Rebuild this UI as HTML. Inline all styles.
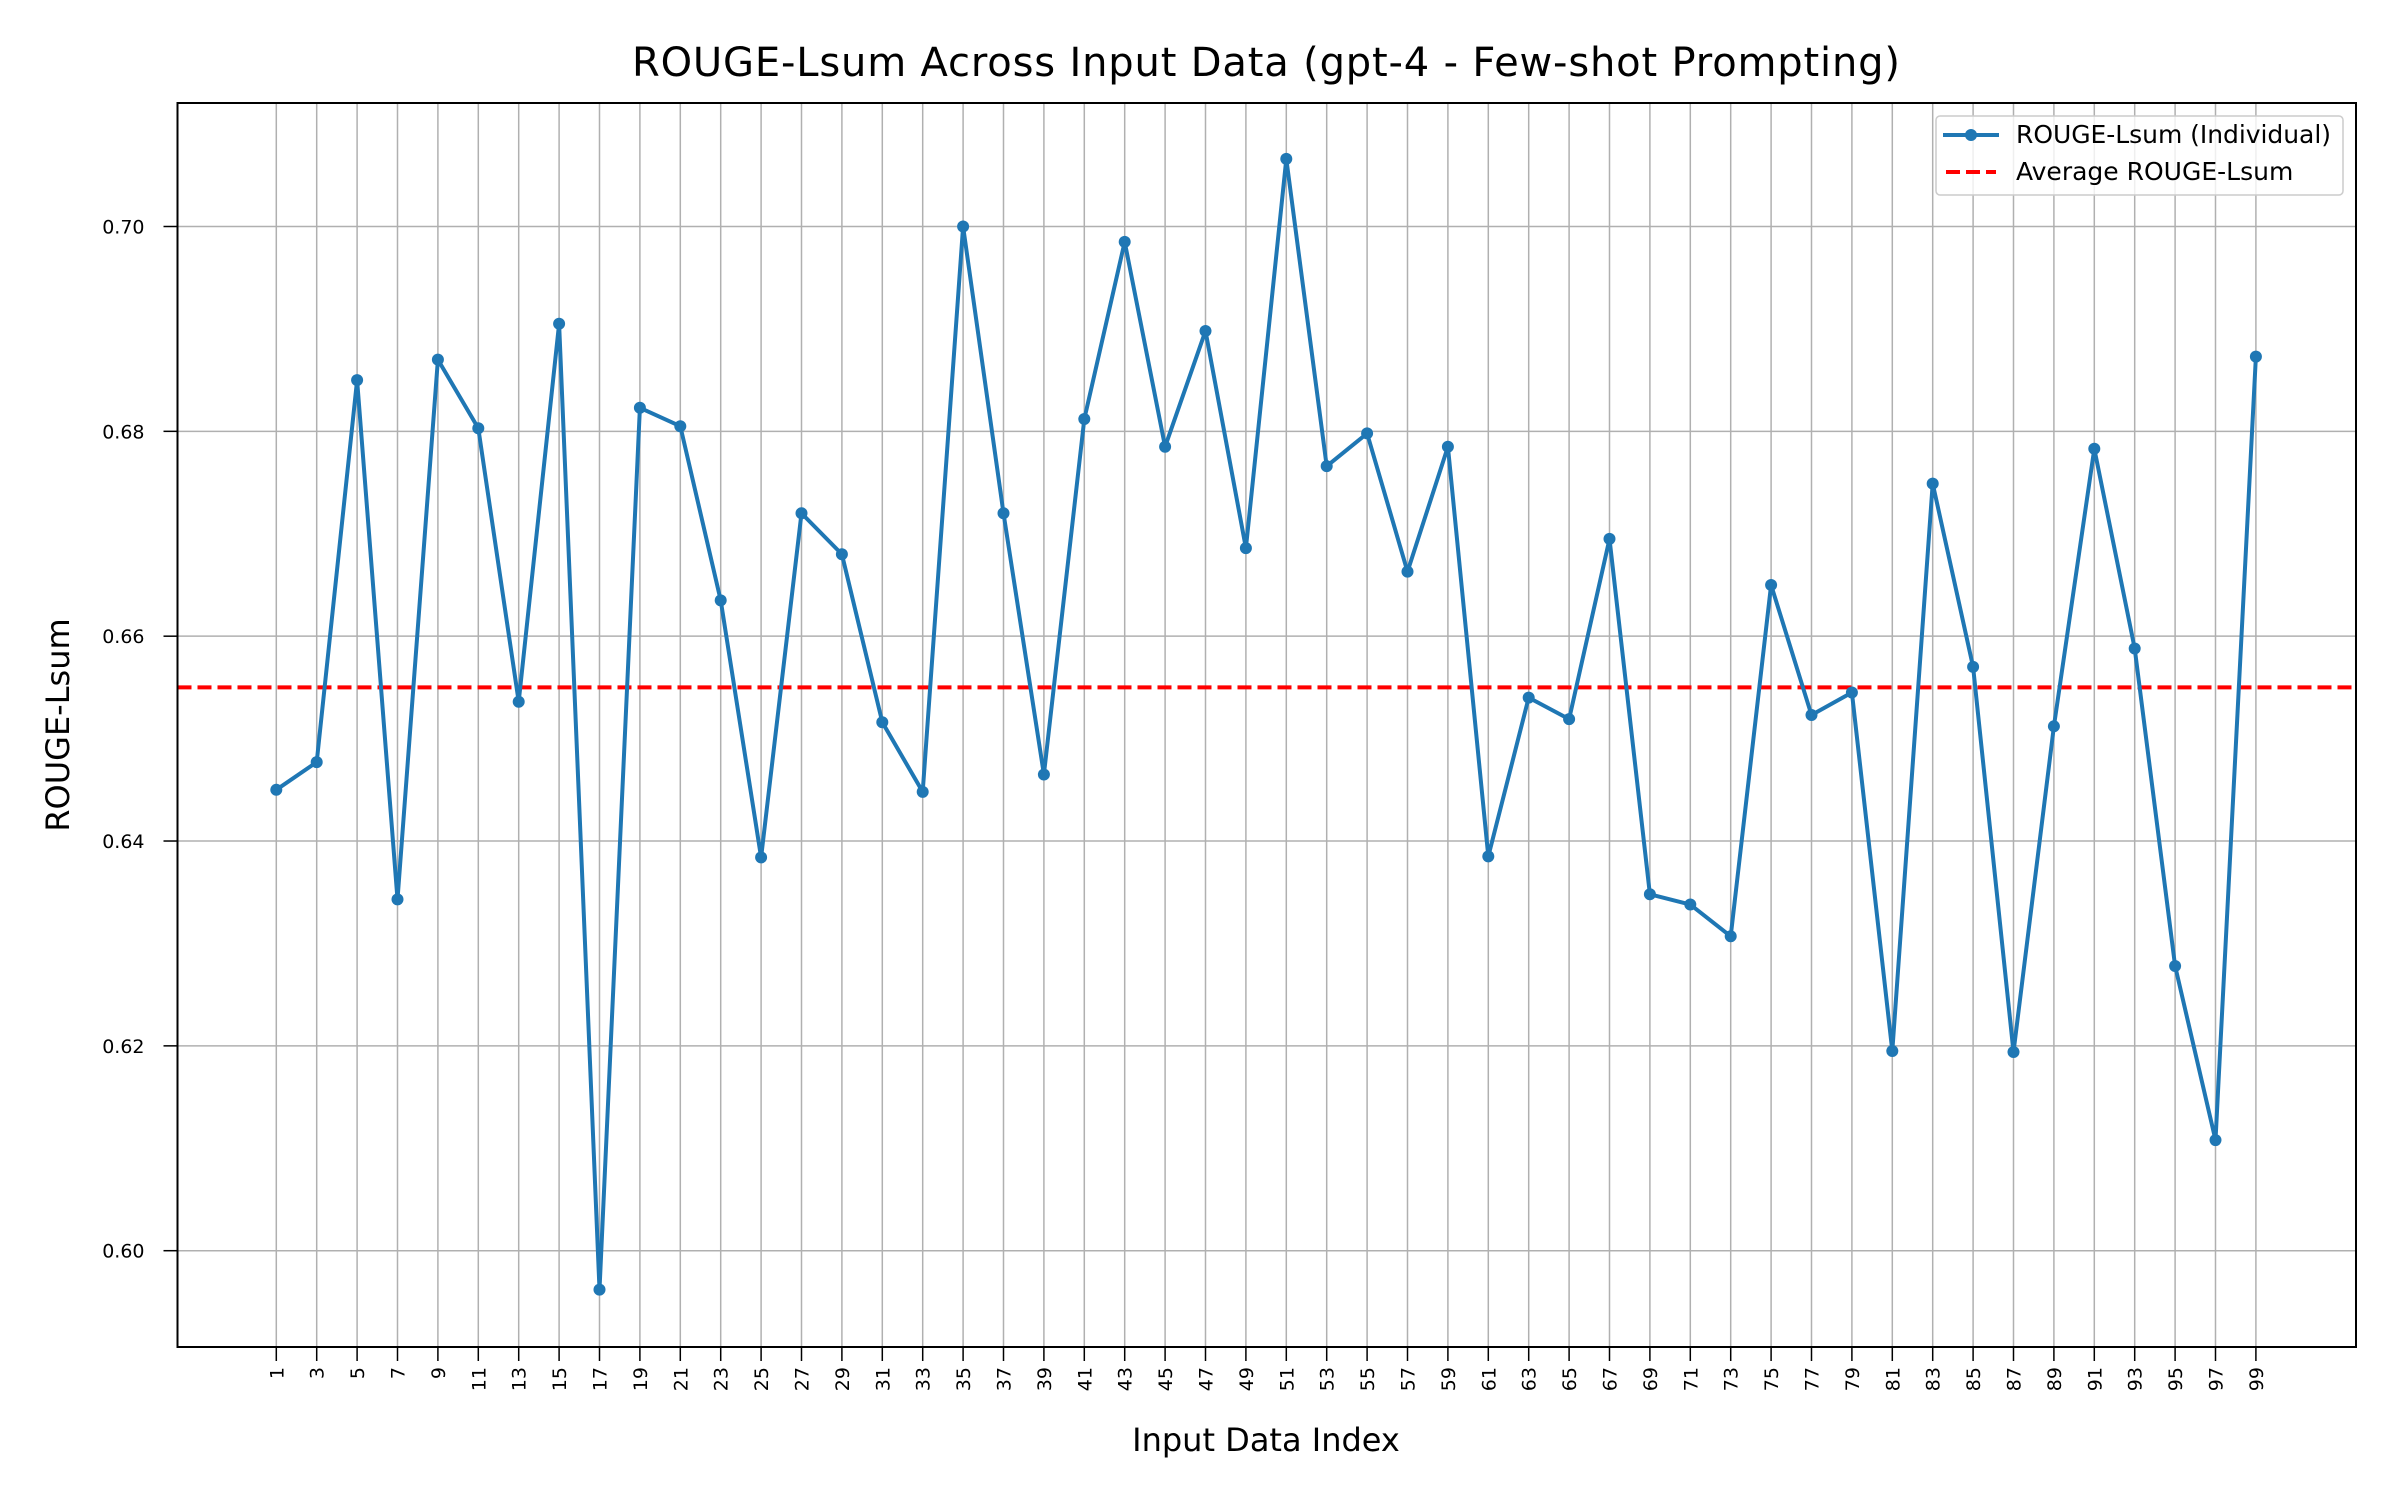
<!DOCTYPE html>
<html><head><meta charset="utf-8"><style>
body{margin:0;background:#fff}
svg text{font-family:"DejaVu Sans","Liberation Sans",sans-serif;fill:#000}
</style></head><body>
<svg id="chart" width="2400" height="1500" xmlns="http://www.w3.org/2000/svg">
<rect width="2400" height="1500" fill="#fff"/>
<g id="grid"></g>
<g id="xticks"></g>
<g id="yticks"></g>
<line id="avg" stroke="#ff0000" stroke-width="4" stroke-dasharray="14,6"/>
<path id="series" fill="none" stroke="#1f77b4" stroke-width="4" stroke-linejoin="round"/>
<g id="points"></g>
<rect x="177.5" y="103" width="2178.5" height="1244" fill="none" stroke="#000" stroke-width="2"/>
<text x="1266" y="76" font-size="40" textLength="1268" text-anchor="middle">ROUGE-Lsum Across Input Data (gpt-4 - Few-shot Prompting)</text>
<text x="1266" y="1451" font-size="32" text-anchor="middle">Input Data Index</text>
<text x="0" y="0" font-size="32" text-anchor="middle" transform="translate(69,725) rotate(-90)">ROUGE-Lsum</text>
<g>
<rect x="1936" y="116" width="407" height="79" rx="4" fill="#fff" fill-opacity="0.8" stroke="#ccc" stroke-width="1.5"/>
<line x1="1943" y1="135" x2="1999" y2="135" stroke="#1f77b4" stroke-width="4"/>
<circle cx="1971" cy="135" r="6" fill="#1f77b4"/>
<text x="2016" y="143" font-size="25" textLength="315">ROUGE-Lsum (Individual)</text>
<line x1="1946" y1="172" x2="1996" y2="172" stroke="#ff0000" stroke-width="4" stroke-dasharray="14,6"/>
<text x="2016" y="180" font-size="25">Average ROUGE-Lsum</text>
</g>
</svg>
<script>
const indices = [1,3,5,7,9,11,13,15,17,19,21,23,25,27,29,31,33,35,37,39,41,43,45,47,49,51,53,55,57,59,61,63,65,67,69,71,73,75,77,79,81,83,85,87,89,91,93,95,97,99];
const values = [0.645,0.6477,0.685,0.6343,0.687,0.6803,0.6536,0.6905,0.5962,0.6823,0.6805,0.6635,0.6384,0.672,0.668,0.6516,0.6448,0.700,0.672,0.6465,0.6812,0.6985,0.6785,0.6898,0.6686,0.7066,0.6766,0.6798,0.6663,0.6785,0.6385,0.654,0.6519,0.6695,0.6348,0.6338,0.6307,0.665,0.6523,0.6545,0.6195,0.6749,0.657,0.6194,0.6512,0.6783,0.6588,0.6278,0.6108,0.6873];
const average = 0.655;
const yTicks = [0.60,0.62,0.64,0.66,0.68,0.70];
const NS="http://www.w3.org/2000/svg";
function xs(i){return 276.3+(i-1)*20.2;}
function ys(v){return 1250.7-(v-0.60)*10242;}
const L=177.5,R=2356,T=103,B=1347;
const grid=document.getElementById('grid'),xt=document.getElementById('xticks'),yt=document.getElementById('yticks');
function mk(tag,attrs,parent){const e=document.createElementNS(NS,tag);for(const k in attrs)e.setAttribute(k,attrs[k]);parent.appendChild(e);return e;}
indices.forEach(i=>{
  const x=xs(i);
  const g=mk('line',{x1:x,x2:x,y1:T,y2:B,stroke:'#b0b0b0','stroke-width':1.5},grid);
  
  
  mk('line',{x1:x,x2:x,y1:B,y2:B+14,stroke:'#000','stroke-width':1.5},xt);
  const t=mk('text',{x:0,y:0,'font-size':19,'text-anchor':'end',transform:`translate(${x+7},${B+20}) rotate(-90)`},xt);
  
  
  t.textContent=i;
});
yTicks.forEach(v=>{
  const y=ys(v);
  const g=mk('line',{x1:L,x2:R,y1:y,y2:y,stroke:'#b0b0b0','stroke-width':1.5},grid);
  
  
  mk('line',{x1:L-14,x2:L,y1:y,y2:y,stroke:'#000','stroke-width':1.5},yt);
  const t=mk('text',{x:L-33,y:y+7,'font-size':19,'text-anchor':'end'},yt);
  
  
  t.textContent=v.toFixed(2);
});
const avg=document.getElementById('avg');
avg.setAttribute('x1',L);avg.setAttribute('x2',R);
avg.setAttribute('y1',ys(average));avg.setAttribute('y2',ys(average));
let d='';
indices.forEach((i,k)=>{d+=(k?'L':'M')+xs(i)+','+ys(values[k]);});
document.getElementById('series').setAttribute('d',d);
const pts=document.getElementById('points');
indices.forEach((i,k)=>{
  const c=mk('circle',{cx:xs(i),cy:ys(values[k]),r:6,fill:'#1f77b4'},pts);
  
  
});
</script>
</body></html>
